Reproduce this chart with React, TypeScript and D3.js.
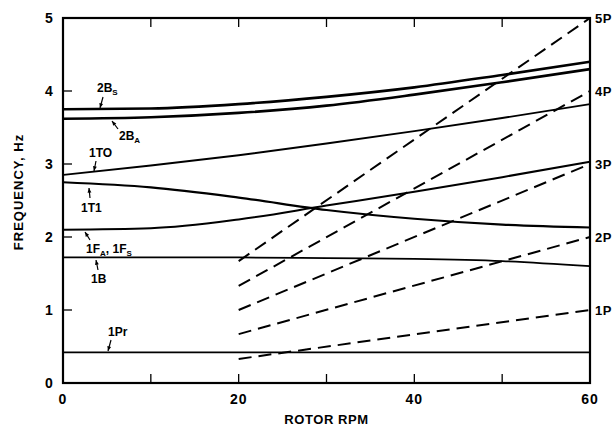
import React from "react";
import * as d3 from "d3";

const rpm = [0, 10, 20, 30, 40, 50, 60];
const mode2BS = [3.75, 3.76, 3.82, 3.92, 4.05, 4.22, 4.4];
const mode2BA = [3.62, 3.64, 3.7, 3.8, 3.95, 4.12, 4.3];
const mode1TO = [2.85, 2.98, 3.12, 3.28, 3.45, 3.63, 3.82];
const mode1T1 = [2.75, 2.68, 2.54, 2.37, 2.25, 2.17, 2.13];
const mode1F = [2.1, 2.12, 2.24, 2.43, 2.62, 2.82, 3.03];
const mode1B = [1.72, 1.72, 1.72, 1.71, 1.7, 1.67, 1.6];
const mode1Pr = [0.42, 0.42, 0.42, 0.42, 0.42, 0.42, 0.42];

const perRevNames = ["1P", "2P", "3P", "4P", "5P"];
const perRevStart = [0.33, 0.67, 1.0, 1.33, 1.67];
const perRevEnd = [1, 2, 3, 4, 5];
const perRevRpm = [20, 60];

const xTicks = [0, 20, 40, 60];
const xMinor = [10, 20, 30, 40, 50];
const yTicks = [0, 1, 2, 3, 4, 5];

const W = 616, H = 427;
const M = { left: 63, right: 590, top: 18, bottom: 383 };

export default function App() {
  const x = d3.scaleLinear().domain([0, 60]).range([M.left, M.right]);
  const y = d3.scaleLinear().domain([0, 5]).range([M.bottom, M.top]);
  const line = d3
    .line<[number, number]>()
    .x((d) => x(d[0]))
    .y((d) => y(d[1]))
    .curve(d3.curveMonotoneX);
  const pts = (vals: number[]) => rpm.map((r, i) => [r, vals[i]] as [number, number]);

  const curves = [
    { v: mode2BS, w: 2.6 },
    { v: mode2BA, w: 2.6 },
    { v: mode1TO, w: 1.9 },
    { v: mode1T1, w: 2.2 },
    { v: mode1F, w: 2 },
    { v: mode1B, w: 1.8 },
    { v: mode1Pr, w: 1.6 },
  ];

  const font = "'Liberation Sans', Arial, sans-serif";
  const labelStyle = { fontFamily: font, fontWeight: 700, fontSize: 12 } as const;

  const leader = (x1: number, y1: number, x2: number, y2: number, key: string) => {
    const ang = Math.atan2(y2 - y1, x2 - x1);
    const L = 5;
    const a1 = ang + Math.PI - 0.4;
    const a2 = ang + Math.PI + 0.4;
    return (
      <g key={key}>
        <line x1={x1} y1={y1} x2={x2} y2={y2} stroke="#000" strokeWidth={1.2} />
        <path
          d={`M${x2},${y2}L${x2 + L * Math.cos(a1)},${y2 + L * Math.sin(a1)}L${x2 + L * Math.cos(a2)},${y2 + L * Math.sin(a2)}Z`}
          fill="#000"
        />
      </g>
    );
  };

  return (
    <svg width={W} height={H} style={{ position: "absolute", left: 0, top: 0, background: "#fff" }}>
      <rect x={0} y={0} width={W} height={H} fill="#fff" />
      <rect
        x={M.left}
        y={M.top}
        width={M.right - M.left}
        height={M.bottom - M.top}
        fill="none"
        stroke="#000"
        strokeWidth={2.2}
      />
      {xMinor.map((t) => (
        <g key={"xt" + t}>
          <line x1={x(t)} x2={x(t)} y1={M.bottom} y2={M.bottom - 9} stroke="#000" strokeWidth={1.3} />
          <line x1={x(t)} x2={x(t)} y1={M.top} y2={M.top + 9} stroke="#000" strokeWidth={1.3} />
        </g>
      ))}
      {yTicks.slice(1, 5).map((t) => (
        <line key={"yt" + t} x1={M.left} x2={M.left + 9} y1={y(t)} y2={y(t)} stroke="#000" strokeWidth={1.3} />
      ))}
      {yTicks.map((t) => (
        <text key={"yl" + t} x={49} y={y(t) + 5} textAnchor="middle" style={{ fontFamily: font, fontWeight: 700, fontSize: 14 }}>
          {t}
        </text>
      ))}
      {xTicks.map((t) => (
        <text key={"xl" + t} x={x(t)} y={404} textAnchor="middle" style={{ fontFamily: font, fontWeight: 700, fontSize: 14, letterSpacing: 1 }}>
          {t}
        </text>
      ))}
      <text x={(M.left + M.right) / 2} y={424} textAnchor="middle" style={{ fontFamily: font, fontWeight: 700, fontSize: 13, letterSpacing: 0.6 }}>
        ROTOR RPM
      </text>
      <text
        transform={`translate(23, 192) rotate(-90)`}
        textAnchor="middle"
        style={{ fontFamily: font, fontWeight: 700, fontSize: 13, letterSpacing: 1 }}
      >
        FREQUENCY, Hz
      </text>
      {curves.map((c, i) => (
        <path key={"c" + i} d={line(pts(c.v)) || ""} fill="none" stroke="#000" strokeWidth={c.w} />
      ))}
      {perRevNames.map((n, i) => {
        const x1 = x(perRevRpm[0]);
        const y1 = y(perRevStart[i]);
        const x2 = x(perRevRpm[1]);
        const y2 = y(perRevEnd[i]);
        return (
          <g key={n}>
            <line x1={x1} y1={y1} x2={x2} y2={y2} stroke="#000" strokeWidth={2} strokeDasharray="13,7" />
            <text x={x2 + 5} y={y2 + 5} style={{ fontFamily: font, fontWeight: 700, fontSize: 13, letterSpacing: 0.5 }}>
              {n}
            </text>
          </g>
        );
      })}
      <text x={97} y={92} style={labelStyle}>
        2B<tspan fontSize={8} dy={3}>S</tspan>
      </text>
      {leader(103, 97, 100, 108, "a1")}
      <text x={119} y={140} style={labelStyle}>
        2B<tspan fontSize={8} dy={3}>A</tspan>
      </text>
      {leader(118, 129, 112, 121, "a2")}
      <text x={89} y={157} style={labelStyle}>
        1TO
      </text>
      {leader(96, 161, 94, 171, "a3")}
      <text x={81} y={212} style={labelStyle}>
        1T1
      </text>
      {leader(90, 198, 89, 188, "a4")}
      <text x={86} y={253} style={labelStyle}>
        1F<tspan fontSize={8} dy={3}>A</tspan>
        <tspan dy={-3}>, 1F</tspan>
        <tspan fontSize={8} dy={3}>S</tspan>
      </text>
      {leader(90, 240, 85, 232, "a5")}
      <text x={91} y={283} style={labelStyle}>
        1B
      </text>
      {leader(98, 270, 96, 260, "a6")}
      <text x={108} y={336} style={labelStyle}>
        1Pr
      </text>
      {leader(111, 340, 108, 351, "a7")}
    </svg>
  );
}
